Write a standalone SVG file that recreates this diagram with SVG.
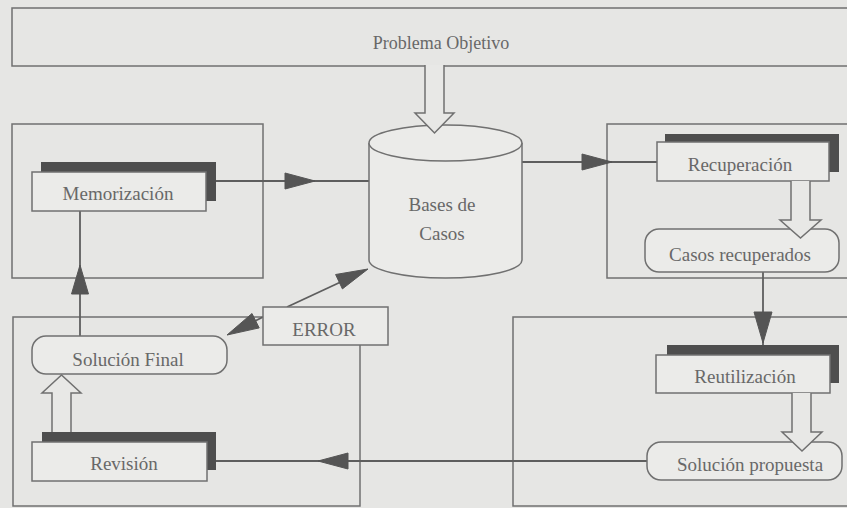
<svg xmlns="http://www.w3.org/2000/svg" width="847" height="508" viewBox="0 0 847 508">
<style>
.frame{fill:none;stroke:#707070;stroke-width:1.5}
.box{fill:#ebebe9;stroke:#707070;stroke-width:1.5}
.shadow{fill:#4e4e4e}
.line{fill:none;stroke:#5e5e5e;stroke-width:1.8}
.head{fill:#555;stroke:#555;stroke-width:1}
.hollow{fill:#e8e8e6;stroke:#707070;stroke-width:1.5}
text{font-family:"Liberation Serif","Times New Roman",serif;font-size:19px;fill:#686868;text-anchor:middle}
</style>
<rect width="847" height="508" fill="#e6e6e4"/>
<g id="frames">
<rect class="frame" x="12" y="8" width="850" height="58"/>
<rect class="frame" x="12" y="124" width="251" height="154"/>
<rect class="frame" x="607" y="124" width="255" height="154"/>
<rect class="frame" x="13" y="317" width="347" height="189"/>
<rect class="frame" x="513" y="317" width="349" height="189"/>
</g>
<g id="problema">
<text x="441" y="49" style="font-size:18px">Problema Objetivo</text>
</g>
<g id="connectors">
<line class="line" x1="216" y1="181" x2="369" y2="181"/>
<polygon class="head" points="315,181 285,173 285,189"/>
<line class="line" x1="522" y1="162" x2="657" y2="162"/>
<polygon class="head" points="612,162 582,154 582,170"/>
<line class="line" x1="763" y1="272" x2="763" y2="345"/>
<polygon class="head" points="763,343 754,312 772,312"/>
<line class="line" x1="647" y1="461" x2="216" y2="461"/>
<polygon class="head" points="318,461 348,453 348,469"/>
<line class="line" x1="80" y1="336" x2="80" y2="211"/>
<polygon class="head" points="80,265 71.5,294 88.5,294"/>
<line class="line" x1="287" y1="307" x2="345" y2="280"/>
<polygon class="head" points="368,269 342.4,288.9 335.6,274.5"/>
<line class="line" x1="263" y1="317" x2="245" y2="326"/>
<polygon class="head" points="227,335 259.2,327.9 252,313.5"/>
</g>
<g id="bases">
<path class="box" d="M369,143 V260 A76.5,18 0 0 0 522,260 V143"/>
<ellipse class="box" cx="445.5" cy="143" rx="76.5" ry="18"/>
<text x="442" y="211">Bases de</text>
<text x="442" y="240">Casos</text>
</g>
<path class="hollow" d="M425,65 V113 H415 L434.5,133 L454,113 H444 V65"/>
<g id="memorizacion">
<rect class="shadow" x="41" y="162" width="175" height="39"/>
<rect class="box" x="32" y="172" width="174" height="39"/>
<text x="118" y="200">Memorización</text>
</g>
<g id="recuperacion">
<rect class="shadow" x="665" y="134" width="174" height="38"/>
<rect class="box" x="657" y="142" width="172" height="39"/>
<text x="740" y="171">Recuperación</text>
</g>
<g id="casos-recuperados">
<rect class="box" x="645" y="229" width="194" height="43" rx="14"/>
<text x="740" y="261">Casos recuperados</text>
</g>
<path class="hollow" d="M791,181 V220 H780 L800.5,238 L821,220 H810 V181"/>
<g id="reutilizacion">
<rect class="shadow" x="667" y="345" width="172" height="38"/>
<rect class="box" x="656" y="355" width="174" height="38"/>
<text x="745" y="383">Reutilización</text>
</g>
<g id="solucion-propuesta">
<rect class="box" x="647" y="442" width="195" height="38" rx="14"/>
<text x="750" y="471">Solución propuesta</text>
</g>
<path class="hollow" d="M792,393 V432 H782 L802,451 L822,432 H811 V393"/>
<g id="error">
<rect class="box" x="263" y="307" width="125" height="38"/>
<text x="324" y="336">ERROR</text>
</g>
<g id="solucion-final">
<rect class="box" x="32" y="336" width="195" height="38" rx="14"/>
<text x="128" y="366">Solución Final</text>
</g>
<g id="revision">
<rect class="shadow" x="42" y="432" width="174" height="38"/>
<rect class="box" x="32" y="442" width="175" height="39"/>
<text x="124" y="470">Revisión</text>
</g>
<path class="hollow" d="M52,432 V393 H42 L61.5,375 L81,393 H71 V432"/>
</svg>
